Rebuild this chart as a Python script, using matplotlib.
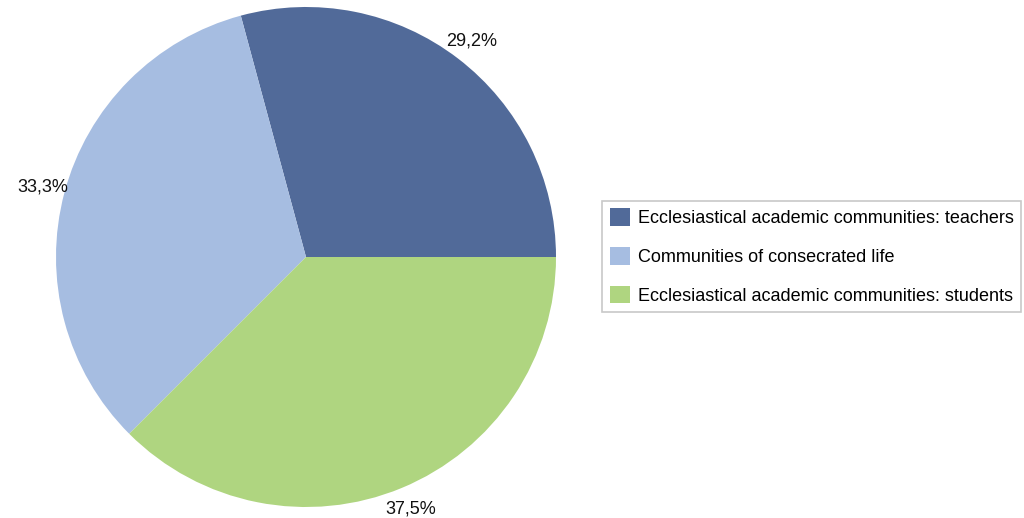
import matplotlib
matplotlib.use("Agg")
import matplotlib.pyplot as plt
from matplotlib.patches import Patch

plt.rcParams['font.family'] = ['Liberation Sans', 'DejaVu Sans']

categories = [
    "Ecclesiastical academic communities: teachers",
    "Communities of consecrated life",
    "Ecclesiastical academic communities: students",
]
shares = [29.2, 33.3, 37.5]
colors = ["#516A99", "#A6BDE1", "#AFD580"]

W, H = 1024, 518
fig = plt.figure(figsize=(W / 100, H / 100), dpi=100)

# pie occupies a square region on the left
cx, cy, r = 306, 257, 250
ax = fig.add_axes([(cx - r) / W, (H - cy - r) / H, 2 * r / W, 2 * r / H])
wedges, _, autotexts = ax.pie(
    shares, colors=colors, startangle=0, counterclock=True, radius=1.0,
    autopct=lambda p: f"{p:.1f}%".replace(".", ","), pctdistance=1.09,
    wedgeprops=dict(linewidth=0), textprops=dict(fontsize=13, color="#111111"),
)
ax.set_xlim(-1, 1)
ax.set_ylim(-1, 1)
ax.set_aspect('equal')
ax.axis('off')

handles = [Patch(facecolor=c, edgecolor='none') for c in colors]
leg = fig.legend(
    handles, categories, loc='center left',
    bbox_to_anchor=(602 / W, 1 - 256.5 / H), fontsize=13,
    frameon=True, fancybox=False, edgecolor="#BBBBBB",
    handlelength=1.15, handleheight=1.15, handletextpad=0.4,
    labelspacing=1.08, borderpad=0.42, borderaxespad=0,
)
leg.get_frame().set_linewidth(1.2)

fig.savefig("out.png", dpi=100)
